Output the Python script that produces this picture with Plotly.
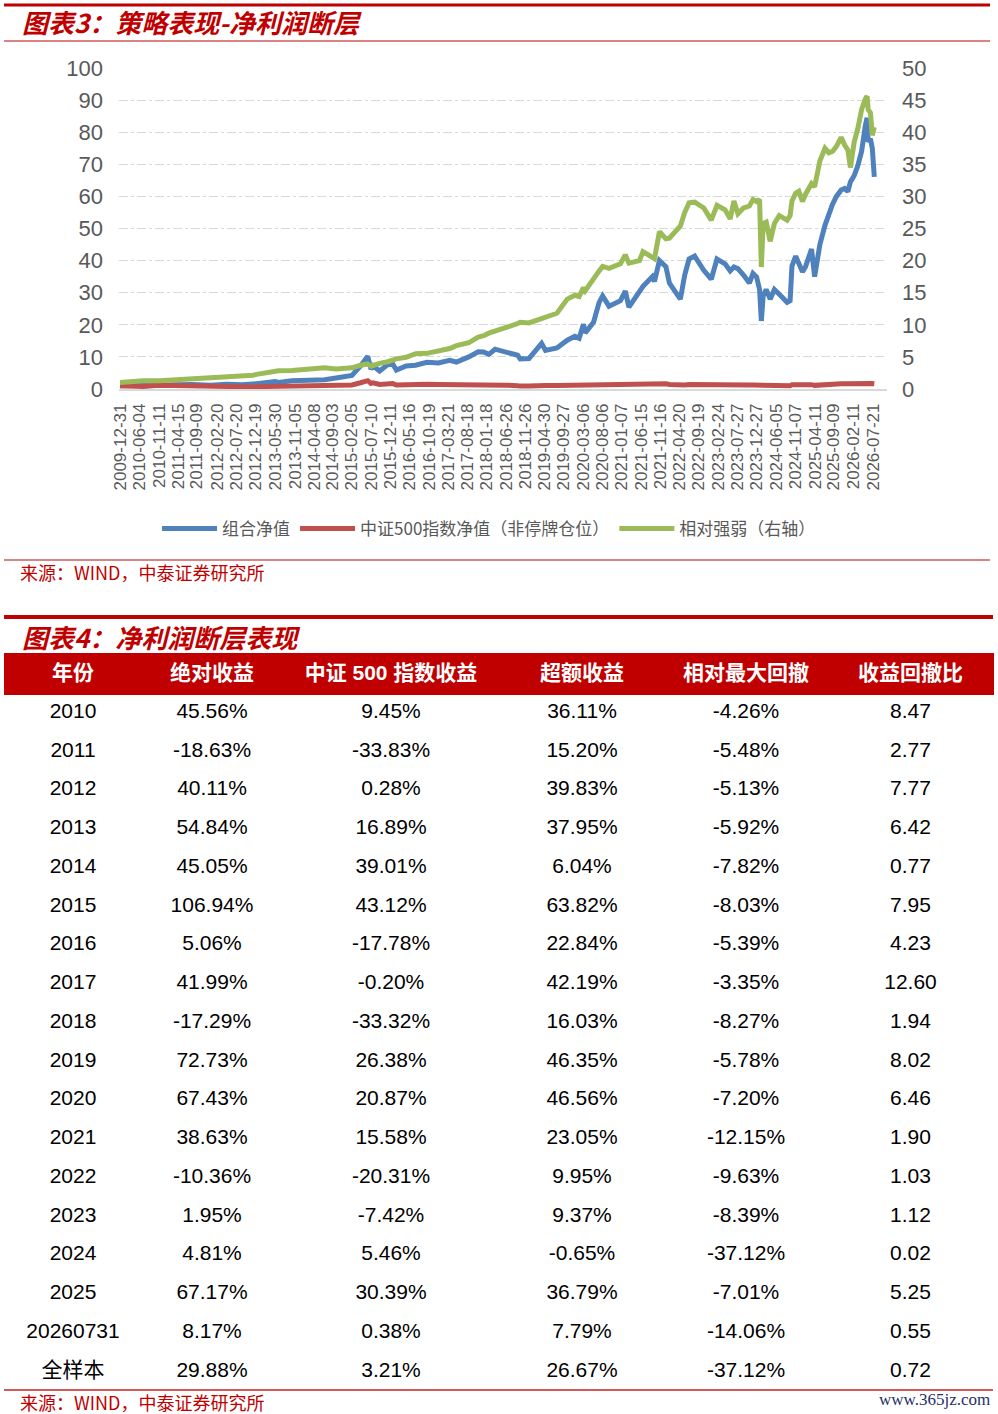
import plotly.graph_objects as go

# ---------------- data: chart ----------------
dates = [
    "2009-12-31", "2010-04-30", "2010-07-05", "2010-11-10", "2010-12-31",
    "2011-04-15", "2011-08-01", "2011-12-30",
    "2012-03-01", "2012-05-07", "2012-09-05", "2012-12-03", "2012-12-31",
    "2013-05-30", "2013-06-25", "2013-10-10", "2013-12-31",
    "2014-04-08", "2014-07-01", "2014-09-30", "2014-12-31",
    "2015-02-05", "2015-04-15", "2015-06-12", "2015-07-08", "2015-07-24", "2015-09-15", "2015-11-20", "2015-12-31",
    "2016-01-28", "2016-04-15", "2016-06-30", "2016-09-30", "2016-12-30",
    "2017-03-31", "2017-05-24", "2017-08-31", "2017-11-15", "2017-12-29",
    "2018-02-08", "2018-03-30", "2018-06-29", "2018-09-28", "2018-10-18", "2018-12-28",
    "2019-04-08", "2019-05-09", "2019-08-09", "2019-10-31", "2019-12-31",
    "2020-02-03", "2020-03-09", "2020-03-23", "2020-05-29", "2020-07-13", "2020-08-10", "2020-09-30", "2020-12-31",
    "2021-02-08", "2021-03-09", "2021-06-01", "2021-06-30", "2021-09-13", "2021-09-30", "2021-11-09", "2021-12-31",
    "2022-01-28", "2022-04-26", "2022-05-31", "2022-07-05", "2022-08-19", "2022-10-31", "2022-12-30",
    "2023-02-14", "2023-04-20", "2023-05-31", "2023-06-30", "2023-08-01", "2023-09-15", "2023-11-01", "2023-11-30", "2023-12-29",
    "2024-01-22", "2024-02-05", "2024-02-20", "2024-03-15", "2024-04-16", "2024-05-20", "2024-06-28", "2024-08-30",
    "2024-09-23", "2024-10-08", "2024-11-07", "2024-12-02", "2024-12-31",
    "2025-01-24", "2025-03-14", "2025-04-08", "2025-05-20", "2025-06-30", "2025-07-31", "2025-08-29", "2025-09-30",
    "2025-11-07", "2025-12-05", "2025-12-31",
    "2026-01-20", "2026-02-20", "2026-03-20", "2026-04-20", "2026-05-20", "2026-06-03", "2026-06-12", "2026-06-30",
    "2026-07-15", "2026-07-31",
]

portfolio_nav = [
    1.00, 1.05, 1.05, 1.45, 1.46,
    1.52, 1.40, 1.18,
    1.35, 1.45, 1.30, 1.40, 1.66,
    2.35, 2.05, 2.55, 2.57,
    2.75, 2.90, 3.40, 3.73,
    4.20, 7.20, 10.2, 6.20, 7.20, 5.60, 7.60, 7.71,
    5.90, 7.20, 7.40, 8.30, 8.10,
    8.90, 8.40, 10.0, 11.6, 11.5,
    10.8, 12.4, 11.3, 10.5, 9.40, 9.51,
    14.2, 12.0, 12.8, 15.2, 16.4,
    15.8, 20.2, 17.5, 20.8, 27.0, 29.0, 25.8, 27.5,
    30.5, 25.5, 30.0, 32.0, 35.0, 33.5, 40.0, 38.1,
    33.0, 28.0, 35.5, 40.5, 41.4, 37.0, 34.2,
    40.5, 39.0, 36.8, 38.0, 37.5, 35.5, 33.0, 36.0, 34.9,
    31.0, 21.2, 29.0, 31.0, 28.0, 31.0, 29.5, 27.0,
    27.5, 38.3, 41.4, 39.0, 36.5,
    38.0, 43.6, 35.0, 45.0, 51.0, 55.0, 57.5, 60.0,
    62.0, 62.5, 61.5,
    64.5, 66.5, 69.5, 74.0, 82.0, 84.5, 77.0, 78.0,
    75.0, 66.1,
]

csi500_nav = [
    1.00, 0.85, 0.80, 1.15, 1.09,
    1.05, 0.92, 0.72,
    0.80, 0.84, 0.69, 0.65, 0.73,
    0.85, 0.72, 0.88, 0.85,
    0.86, 0.88, 1.10, 1.18,
    1.28, 1.95, 2.60, 1.75, 1.95, 1.40, 1.78, 1.69,
    1.25, 1.45, 1.45, 1.50, 1.39,
    1.40, 1.22, 1.38, 1.42, 1.39,
    1.23, 1.38, 1.18, 1.03, 0.90, 0.93,
    1.30, 1.08, 1.08, 1.13, 1.17,
    1.10, 1.30, 1.15, 1.20, 1.48, 1.50, 1.38, 1.41,
    1.45, 1.30, 1.50, 1.52, 1.70, 1.65, 1.63, 1.63,
    1.40, 1.10, 1.28, 1.40, 1.42, 1.31, 1.30,
    1.40, 1.40, 1.36, 1.32, 1.38, 1.28, 1.25, 1.24, 1.21,
    1.05, 1.05, 1.12, 1.20, 1.18, 1.22, 1.10, 1.02,
    1.00, 1.35, 1.40, 1.33, 1.27,
    1.26, 1.35, 1.13, 1.30, 1.35, 1.45, 1.58, 1.62,
    1.65, 1.62, 1.66,
    1.80, 1.72, 1.72, 1.72, 1.80, 1.85, 1.78, 1.80,
    1.72, 1.66,
]

relative_strength = [
    1.00, 1.22, 1.30, 1.27, 1.33,
    1.45, 1.52, 1.64,
    1.69, 1.73, 1.88, 2.15, 2.28,
    2.76, 2.85, 2.90, 3.03,
    3.18, 3.30, 3.10, 3.16,
    3.30, 3.70, 3.90, 3.55, 3.70, 4.00, 4.25, 4.57,
    4.70, 4.95, 5.50, 5.55, 5.83,
    6.30, 6.75, 7.20, 8.10, 8.30,
    8.70, 8.95, 9.60, 10.2, 10.4, 10.3,
    10.9, 11.1, 11.8, 14.0, 14.6,
    14.4, 15.8, 15.3, 17.3, 18.4, 19.1, 18.8, 19.5,
    20.9, 19.6, 20.0, 21.4, 20.6, 20.3, 24.5, 23.4,
    23.5, 25.4, 27.5, 29.0, 29.1, 28.2, 26.3,
    28.6, 27.9, 26.5, 29.3, 27.3, 28.2, 28.5, 29.5, 29.2,
    29.5, 19.0, 25.8, 26.0, 23.0, 25.8, 27.0, 26.3,
    27.0, 29.3, 30.5, 30.8, 29.2,
    30.3, 32.0, 31.5, 35.5, 37.5, 36.8, 37.0, 37.8,
    39.2, 38.0, 37.2,
    34.5, 38.5, 40.5, 43.5, 45.2, 45.6, 43.5, 43.0,
    39.5, 40.8,
]

tick_dates = [
    "2009-12-31", "2010-06-04", "2010-11-11", "2011-04-15", "2011-09-09", "2012-02-20",
    "2012-07-20", "2012-12-19", "2013-05-30", "2013-11-05", "2014-04-08", "2014-09-03",
    "2015-02-05", "2015-07-10", "2015-12-11", "2016-05-16", "2016-10-19", "2017-03-21",
    "2017-08-18", "2018-01-18", "2018-06-26", "2018-11-26", "2019-04-30", "2019-09-27",
    "2020-03-06", "2020-08-06", "2021-01-07", "2021-06-15", "2021-11-16", "2022-04-20",
    "2022-09-19", "2023-02-24", "2023-07-27", "2023-12-27", "2024-06-05", "2024-11-07",
    "2025-04-11", "2025-09-09", "2026-02-11", "2026-07-21",
]

# ---------------- data: table ----------------
table_headers = ["年份", "绝对收益", "中证 500 指数收益", "超额收益", "相对最大回撤", "收益回撤比"]
years = ["2010", "2011", "2012", "2013", "2014", "2015", "2016", "2017", "2018", "2019",
         "2020", "2021", "2022", "2023", "2024", "2025", "20260731", "全样本"]
abs_ret = ["45.56%", "-18.63%", "40.11%", "54.84%", "45.05%", "106.94%", "5.06%", "41.99%", "-17.29%",
           "72.73%", "67.43%", "38.63%", "-10.36%", "1.95%", "4.81%", "67.17%", "8.17%", "29.88%"]
idx_ret = ["9.45%", "-33.83%", "0.28%", "16.89%", "39.01%", "43.12%", "-17.78%", "-0.20%", "-33.32%",
           "26.38%", "20.87%", "15.58%", "-20.31%", "-7.42%", "5.46%", "30.39%", "0.38%", "3.21%"]
excess_ret = ["36.11%", "15.20%", "39.83%", "37.95%", "6.04%", "63.82%", "22.84%", "42.19%", "16.03%",
              "46.35%", "46.56%", "23.05%", "9.95%", "9.37%", "-0.65%", "36.79%", "7.79%", "26.67%"]
max_dd = ["-4.26%", "-5.48%", "-5.13%", "-5.92%", "-7.82%", "-8.03%", "-5.39%", "-3.35%", "-8.27%",
          "-5.78%", "-7.20%", "-12.15%", "-9.63%", "-8.39%", "-37.12%", "-7.01%", "-14.06%", "-37.12%"]
ret_dd_ratio = ["8.47", "2.77", "7.77", "6.42", "0.77", "7.95", "4.23", "12.60", "1.94",
                "8.02", "6.46", "1.90", "1.03", "1.12", "0.02", "5.25", "0.55", "0.72"]

# ---------------- figure ----------------
W, H = 998, 1414


def px(xp):
    return xp / W


def py(yp):
    return 1 - yp / H


CJK = "Noto Sans CJK SC"
LAT = "Liberation Sans, Arial, Noto Sans CJK SC"
RED = "#c00000"
THIN_RED = "#d25a5a"
GREY = "#595959"

fig = go.Figure()
fig.add_trace(go.Scatter(x=dates, y=portfolio_nav, name="组合净值", mode="lines",
                         line=dict(color="#4f81bd", width=5)))
fig.add_trace(go.Scatter(x=dates, y=csi500_nav, name="中证500指数净值（非停牌仓位）", mode="lines",
                         line=dict(color="#c0504d", width=5)))
fig.add_trace(go.Scatter(x=dates, y=relative_strength, name="相对强弱（右轴）", mode="lines",
                         line=dict(color="#9bbb59", width=5), yaxis="y2"))

fig.add_trace(go.Table(
    domain=dict(x=[px(4), px(993)], y=[py(1396), py(653)]),
    columnwidth=[138, 140, 218, 164, 164, 165],
    header=dict(values=[f"<b>{h}</b>" for h in table_headers],
                fill_color=RED, line_color=RED, align="center", height=41,
                font=dict(color="white", size=21, family=LAT)),
    cells=dict(values=[years, abs_ret, idx_ret, excess_ret, max_dd, ret_dd_ratio],
               fill_color="white", line_color="white", align="center", height=38.75,
               font=dict(color="black", size=21, family=LAT)),
))

fig.update_layout(
    template="none",
    width=W, height=H, autosize=False,
    margin=dict(l=0, r=0, t=0, b=0, pad=0, autoexpand=False),
    paper_bgcolor="white", plot_bgcolor="white",
    font=dict(family=LAT, color=GREY),
    xaxis=dict(type="date", domain=[px(119), px(887)], range=["2009-12-23", "2026-11-10"],
               tickmode="array", tickvals=tick_dates, ticktext=tick_dates, tickangle=-90,
               tickfont=dict(size=17, color=GREY, family=LAT), showgrid=False,
               showline=True, linecolor="#d9d9d9", linewidth=1.5, ticks="",
               ticklabelstandoff=6, anchor="y", automargin=False, zeroline=False),
    yaxis=dict(domain=[py(389), py(68)], range=[0, 100], dtick=10, tick0=0,
               showgrid=True, gridcolor="#d9d9d9", griddash="dashdot", gridwidth=1,
               zeroline=False, tickfont=dict(size=22, color=GREY, family=LAT),
               ticklabelstandoff=15, ticks="", automargin=False, showline=False),
    yaxis2=dict(overlaying="y", side="right", range=[0, 50], dtick=5, tick0=0,
                showgrid=False, zeroline=False, tickfont=dict(size=22, color=GREY, family=LAT),
                ticklabelstandoff=14, ticks="", anchor="x", automargin=False, showline=False),
    legend=dict(orientation="h", x=0.49, xanchor="center", y=py(529), yanchor="middle",
                font=dict(size=17, color=GREY, family=CJK), itemwidth=55,
                bgcolor="rgba(0,0,0,0)"),
    showlegend=True,
)

# rules
fig.add_shape(type="line", xref="paper", yref="paper", x0=px(4), x1=px(990), y0=py(5), y1=py(5),
              line=dict(color=RED, width=3))
fig.add_shape(type="line", xref="paper", yref="paper", x0=px(4), x1=px(990), y0=py(41), y1=py(41),
              line=dict(color=THIN_RED, width=1.5))
fig.add_shape(type="line", xref="paper", yref="paper", x0=px(4), x1=px(990), y0=py(560), y1=py(560),
              line=dict(color=THIN_RED, width=1.5))
fig.add_shape(type="line", xref="paper", yref="paper", x0=px(4), x1=px(993), y0=py(617), y1=py(617),
              line=dict(color=RED, width=4))
fig.add_shape(type="line", xref="paper", yref="paper", x0=px(4), x1=px(993), y0=py(1390), y1=py(1390),
              line=dict(color=THIN_RED, width=2))

# texts
fig.add_annotation(xref="paper", yref="paper", x=px(20), y=py(22), xanchor="left", yanchor="middle",
                   text="<b><i>图表3：策略表现-净利润断层</i></b>", showarrow=False,
                   font=dict(size=26, color=RED, family=CJK))
fig.add_annotation(xref="paper", yref="paper", x=px(18), y=py(572), xanchor="left", yanchor="middle",
                   text="来源：WIND，中泰证券研究所", showarrow=False,
                   font=dict(size=18, color=RED, family=CJK))
fig.add_annotation(xref="paper", yref="paper", x=px(20), y=py(636), xanchor="left", yanchor="middle",
                   text="<b><i>图表4：净利润断层表现</i></b>", showarrow=False,
                   font=dict(size=26, color=RED, family=CJK))
fig.add_annotation(xref="paper", yref="paper", x=px(18), y=py(1402), xanchor="left", yanchor="middle",
                   text="来源：WIND，中泰证券研究所", showarrow=False,
                   font=dict(size=18, color=RED, family=CJK))
fig.add_annotation(xref="paper", yref="paper", x=px(992), y=py(1399), xanchor="right", yanchor="middle",
                   text="www.365jz.com", showarrow=False,
                   font=dict(size=17, color="#1f2f6b", family="Liberation Serif, DejaVu Serif"))

# remove the browser's default page margin so the figure sits at the page origin
fig.write_html("out.html", config={"displayModeBar": False},
               post_script="document.body.style.margin='0px';")
